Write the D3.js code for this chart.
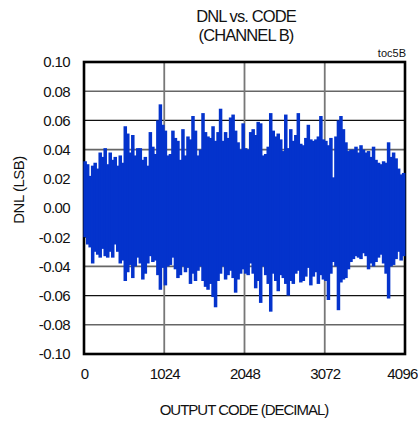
<!DOCTYPE html>
<html>
<head>
<meta charset="utf-8">
<script src="https://cdn.jsdelivr.net/npm/d3@7"></script>
<style>
  html, body { margin: 0; padding: 0; background: #fff; }
  svg { display: block; font-family: "Liberation Sans", Arial, sans-serif; }
</style>
</head>
<body>
<svg id="chart" width="418" height="421"></svg>
<script>
// ---- data ----
// Each 32-code bin: peak-high and peak-low DNL seen in that bin
const binWidth = 32;
const dnlHigh = [
  0.032, 0.030, 0.022, 0.029, 0.031, 0.027, 0.038, 0.035,
  0.041, 0.030, 0.038, 0.033, 0.035, 0.029, 0.036, 0.031,
  0.056, 0.051, 0.038, 0.050, 0.036, 0.041, 0.041, 0.033,
  0.035, 0.029, 0.052, 0.042, 0.037, 0.060, 0.071, 0.057,
  0.053, 0.036, 0.037, 0.053, 0.048, 0.046, 0.033, 0.054,
  0.036, 0.049, 0.047, 0.063, 0.053, 0.036, 0.040, 0.065,
  0.052, 0.049, 0.048, 0.056, 0.046, 0.052, 0.068, 0.046,
  0.052, 0.048, 0.062, 0.064, 0.053, 0.045, 0.040, 0.058,
  0.041, 0.040, 0.052, 0.054, 0.050, 0.059, 0.058, 0.036,
  0.037, 0.042, 0.065, 0.053, 0.049, 0.051, 0.047, 0.039,
  0.064, 0.041, 0.054, 0.046, 0.050, 0.065, 0.044, 0.043,
  0.048, 0.057, 0.047, 0.046, 0.047, 0.049, 0.063, 0.047,
  0.046, 0.043, 0.048, 0.021, 0.049, 0.060, 0.063, 0.054,
  0.045, 0.039, 0.040, 0.040, 0.042, 0.038, 0.043, 0.040,
  0.038, 0.039, 0.035, 0.042, 0.033, 0.031, 0.030, 0.032,
  0.031, 0.045, 0.035, 0.038, 0.034, 0.027, 0.023, 0.024
];
const dnlLow = [
  -0.020, -0.025, -0.027, -0.038, -0.030, -0.032, -0.034, -0.028,
  -0.033, -0.034, -0.030, -0.034, -0.025, -0.030, -0.038, -0.036,
  -0.050, -0.044, -0.039, -0.048, -0.040, -0.034, -0.038, -0.049,
  -0.045, -0.038, -0.033, -0.037, -0.036, -0.046, -0.056, -0.041,
  -0.053, -0.040, -0.039, -0.034, -0.042, -0.048, -0.046, -0.040,
  -0.044, -0.041, -0.052, -0.045, -0.050, -0.043, -0.040, -0.050,
  -0.054, -0.056, -0.052, -0.061, -0.068, -0.050, -0.045, -0.040,
  -0.049, -0.046, -0.043, -0.048, -0.058, -0.049, -0.045, -0.042,
  -0.045, -0.046, -0.038, -0.045, -0.055, -0.050, -0.065, -0.040,
  -0.046, -0.052, -0.071, -0.045, -0.050, -0.057, -0.046, -0.048,
  -0.052, -0.060, -0.050, -0.052, -0.045, -0.043, -0.051, -0.050,
  -0.047, -0.041, -0.053, -0.047, -0.044, -0.052, -0.046, -0.049,
  -0.050, -0.063, -0.045, -0.037, -0.040, -0.070, -0.051, -0.049,
  -0.048, -0.042, -0.037, -0.035, -0.033, -0.034, -0.035, -0.031,
  -0.033, -0.042, -0.038, -0.040, -0.037, -0.034, -0.032, -0.038,
  -0.045, -0.062, -0.040, -0.039, -0.035, -0.030, -0.036, -0.033
];
const xTicks = [0, 1024, 2048, 3072, 4096];
const xTickLabels = ["0", "1024", "2048", "3072", "4096"];
const yTicks = [-0.10, -0.08, -0.06, -0.04, -0.02, 0.00, 0.02, 0.04, 0.06, 0.08, 0.10];
const yTickLabels = ["-0.10", "-0.08", "-0.06", "-0.04", "-0.02", "0.00", "0.02", "0.04", "0.06", "0.08", "0.10"];
const titleLines = ["DNL vs. CODE", "(CHANNEL B)"];
const xTitle = "OUTPUT CODE (DECIMAL)";
const yTitle = "DNL (LSB)";
const tag = "toc5B";

// ---- table built from the arrays ----
const bins = dnlHigh.map((h, i) => ({ code: i * binWidth, hi: h, lo: dnlLow[i] }));

// ---- layout ----
const svg = d3.select("#chart");
const pL = 84, pR = 405, pT = 62, pB = 354;
const x = d3.scaleLinear().domain([0, 4096]).range([pL, pR]);
const y = d3.scaleLinear().domain([-0.1, 0.1]).range([pB, pT]);

// gridlines
const grid = svg.append("g");
grid.selectAll("line.h").data(yTicks.filter(v => Math.abs(v) > 1e-9 && Math.abs(v) < 0.099))
  .join("line")
  .attr("x1", pL).attr("x2", pR)
  .attr("y1", d => y(d)).attr("y2", d => y(d))
  .attr("stroke", d => Math.abs(Math.abs(d) - 0.06) < 1e-9 ? "#111" : "#666")
  .attr("stroke-width", d => Math.abs(Math.abs(d) - 0.06) < 1e-9 ? 1.3 : 1.6);
grid.selectAll("line.v").data(xTicks.slice(1, -1))
  .join("line")
  .attr("x1", d => x(d)).attr("x2", d => x(d))
  .attr("y1", pT).attr("y2", pB)
  .attr("stroke", "#777").attr("stroke-width", 1.8);

// frame
svg.append("rect")
  .attr("x", pL).attr("y", pT)
  .attr("width", pR - pL).attr("height", pB - pT)
  .attr("fill", "none").attr("stroke", "#000").attr("stroke-width", 2.6);

// data: min-max envelope per code bin
const colour = "#0433cc";
svg.append("g").selectAll("rect").data(bins).join("rect")
  .attr("x", d => x(d.code) - 0.6)
  .attr("width", x(binWidth) - x(0) + 1.0)
  .attr("y", d => y(d.hi))
  .attr("height", d => y(d.lo) - y(d.hi))
  .attr("fill", colour);

// axes (labels only)
const yAxis = d3.axisLeft(y).tickValues(yTicks).tickSize(0).tickPadding(0)
  .tickFormat((d, i) => yTickLabels[i]);
const gy = svg.append("g").attr("transform", `translate(${pL - 14},0)`).call(yAxis);
gy.select(".domain").remove();
gy.selectAll("text").attr("font-size", 15).attr("fill", "#111")
  .attr("font-family", "Liberation Sans, Arial, sans-serif")
  .style("letter-spacing", "-0.6px");

const xAxis = d3.axisBottom(x).tickValues(xTicks).tickSize(0).tickPadding(0)
  .tickFormat((d, i) => xTickLabels[i]);
const gx = svg.append("g").attr("transform", `translate(0,${pB + 14})`).call(xAxis);
gx.select(".domain").remove();
gx.selectAll("text").attr("font-size", 15).attr("fill", "#111")
  .attr("font-family", "Liberation Sans, Arial, sans-serif")
  .style("letter-spacing", "-0.8px");
gx.selectAll(".tick").filter(d => d === 4096).select("text")
  .attr("text-anchor", "end").attr("x", 417 - x(4096));

// titles
svg.append("text").attr("x", 246).attr("y", 22).attr("text-anchor", "middle")
  .attr("font-size", 16.5).style("letter-spacing", "-0.9px").attr("fill", "#111").text(titleLines[0]);
svg.append("text").attr("x", 246).attr("y", 41).attr("text-anchor", "middle")
  .attr("font-size", 16.5).style("letter-spacing", "-0.9px").attr("fill", "#111").text(titleLines[1]);
svg.append("text").attr("x", 406).attr("y", 57).attr("text-anchor", "end")
  .attr("font-size", 11).attr("fill", "#111").text(tag);
svg.append("text").attr("x", 244).attr("y", 415).attr("text-anchor", "middle")
  .attr("font-size", 15).style("letter-spacing", "-1px").attr("fill", "#111").text(xTitle);
svg.append("text").attr("transform", "translate(24,190) rotate(-90)").attr("text-anchor", "middle")
  .attr("font-size", 15).style("letter-spacing", "-0.5px").attr("fill", "#111").text(yTitle);
</script>
</body>
</html>
